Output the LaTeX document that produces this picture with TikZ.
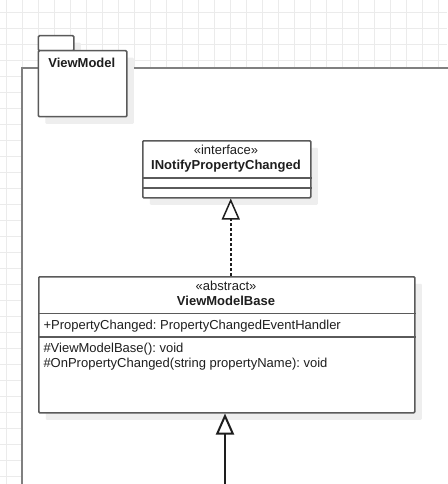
\documentclass[tikz,border=0pt]{standalone}
\usepackage{fontspec}
\setmainfont{Liberation Sans}
\usetikzlibrary{arrows.meta,shadows}
\frenchspacing

\definecolor{gridgrey}{HTML}{EBEBEB}
\definecolor{shadegrey}{HTML}{EEEEEE}
\definecolor{boxgrey}{HTML}{5A5A5A}
\definecolor{framegrey}{HTML}{808080}
\definecolor{textgrey}{HTML}{1E1E1E}

\tikzset{
  umlbox/.style={draw=boxgrey, line width=1.5pt, fill=white, rectangle, rounded corners=1pt,
    inner sep=0pt, anchor=north west,
    drop shadow={shadow xshift=7pt, shadow yshift=-7pt, fill=shadegrey, opacity=1}},
  umltext/.style={inner sep=0pt, anchor=base, text=textgrey},
  umlleft/.style={umltext, anchor=base west},
  divider/.style={draw=boxgrey, line width=1.5pt},
  hollow/.style={-{Triangle[length=21pt, width=18pt, fill=white]}, line width=1.5pt, draw=textgrey}
}

\begin{document}
\begin{tikzpicture}[x=1pt, y=-1pt, font=\fontsize{13}{15}\selectfont]
        \useasboundingbox (0,0) rectangle (447,484);

        % grid behind the package
        \foreach \k in {0,...,27} \draw[gridgrey, line width=1pt] (6.3+16*\k,0) -- (6.3+16*\k,484);
        \foreach \k in {0,...,29} \draw[gridgrey, line width=1pt] (0,12.3+16*\k) -- (447,12.3+16*\k);
        \fill[white] (22,68) rectangle (470,500);
        \draw[framegrey, line width=2pt] (22,500) -- (22,68) -- (470,68);

        % package
        \node[umlbox, minimum width=35.3pt, minimum height=15pt] (tab) at (37.7,35) {};
        \node[umlbox, minimum width=88.3pt, minimum height=66pt] (pkg) at (37.7,50) {};
        \node[umltext] (pkgname) at (81.8,67.7) {\bfseries ViewModel};

        % interface
        \node[umlbox, minimum width=168pt, minimum height=57pt] (iface) at (142,140) {};
        \node[umltext] (ifacetype) at (226,154) {«interface»};
        \node[umltext] (ifacename) at (226,169.5) {\bfseries INotifyPropertyChanged};
        \draw[divider] ([yshift=-38]iface.north west) -- ([yshift=-38]iface.north east);
        \draw[divider] ([yshift=-48]iface.north west) -- ([yshift=-48]iface.north east);

        % abstract base
        \node[umlbox, minimum width=376pt, minimum height=136pt] (base) at (38,276) {};
        \node[umltext] (basetype) at (226,290.7) {«abstract»};
        \node[umltext] (basename) at (226,305.7) {\bfseries ViewModelBase};
        \draw[divider] ([yshift=-37.7]base.north west) -- ([yshift=-37.7]base.north east);
        \draw[divider] ([yshift=-61]base.north west) -- ([yshift=-61]base.north east);
        \node[umlleft] (attr) at (43.3,329) {+PropertyChanged: PropertyChangedEventHandler};
        \node[umlleft] (ctor) at (43.3,352.3) {\#ViewModelBase(): void};
        \node[umlleft] (notify) at (43.3,367.3) {\#OnPropertyChanged(string propertyName): void};

        % connectors
        \coordinate (sub) at (225,490);
        \draw[hollow, dash pattern=on 3pt off 2pt] ([xshift=4]base.north) -- ([xshift=4]iface.south);
        \draw[hollow, line width=2pt] (sub) -- (sub |- base.south);
    \end{tikzpicture}
\end{document}
